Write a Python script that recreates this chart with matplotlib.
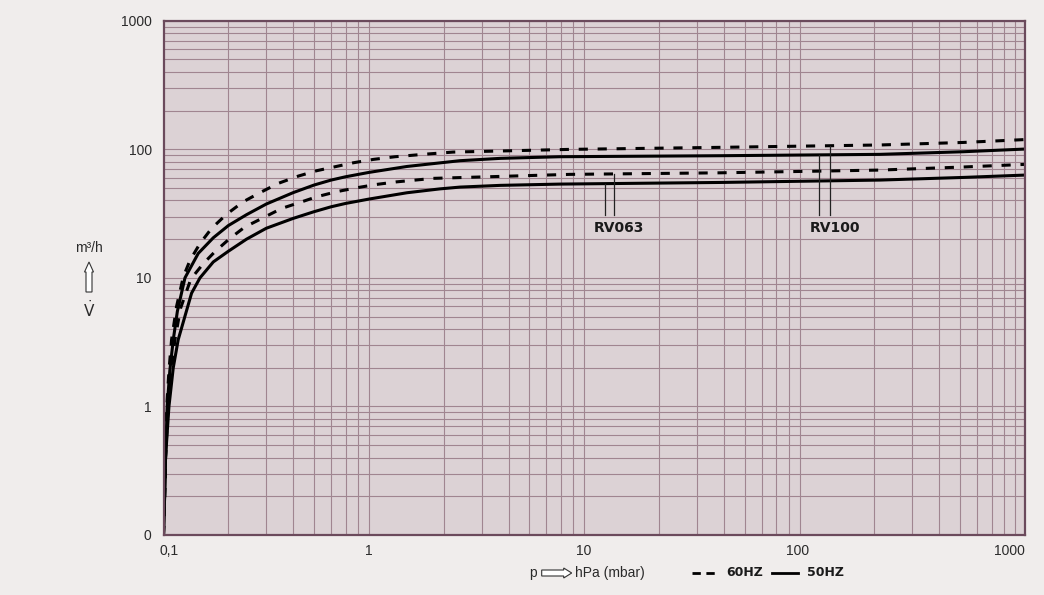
import numpy as np
import matplotlib
matplotlib.use('Agg')
import matplotlib.pyplot as plt
from matplotlib.patches import FancyArrow
from matplotlib.lines import Line2D
import matplotlib.transforms as mtrans
from matplotlib.ticker import LogLocator, NullFormatter, FixedLocator

# ---------------- data ----------------
rv100_60_p = [0.1, 0.1012, 0.1022, 0.1035, 0.106, 0.109, 0.115, 0.1236, 0.1328, 0.1477, 0.1674,
              0.1965, 0.2347, 0.28, 0.341, 0.423, 0.514, 0.625, 0.760, 0.942, 1.188, 1.67, 2.21,
              7.7, 38.3, 212, 517, 1000]
rv100_60_s = [0.1, 0.2, 0.4, 1.0, 1.9, 3.3, 6.0, 10.2, 13.7, 18.5, 24.3,
              31.3, 39.1, 45.9, 54.3, 61.9, 68.1, 73.1, 78.5, 83.4, 87.5, 91.8, 95.1,
              99.8, 103.5, 108, 113, 119]

rv100_50_p = [0.1, 0.1012, 0.1022, 0.104, 0.107, 0.111, 0.116, 0.1258, 0.145, 0.1703, 0.2,
              0.243, 0.3, 0.4, 0.5, 0.6, 0.7, 0.9, 1.35, 2.38, 3.67, 6.9, 38.3, 212, 517, 1000]
rv100_50_s = [0.1, 0.2, 0.4, 1.0, 1.9, 3.3, 5.5, 10.0, 15.5, 20.5, 25.5,
              31.0, 37.5, 46.0, 52.7, 57.6, 61.1, 66.1, 73.5, 81.5, 85.0, 87.5, 89.1, 91.3,
              95.7, 100.4]

rv063_60_p = [0.1, 0.1012, 0.1022, 0.105, 0.109, 0.113, 0.120, 0.134, 0.153, 0.1734, 0.2036,
              0.239, 0.290, 0.354, 0.430, 0.514, 0.637, 0.789, 0.977, 1.21, 1.79, 7.7, 38.3,
              212, 517, 1000]
rv063_60_s = [0.1, 0.2, 0.4, 1.0, 2.0, 3.3, 5.8, 9.8, 12.9, 16.0, 20.3,
              24.9, 29.3, 34.7, 38.6, 42.7, 46.8, 50.2, 53.3, 55.8, 59.4, 63.8, 65.6,
              68.9, 72.8, 76.3]

rv063_50_p = [0.1, 0.1012, 0.1022, 0.106, 0.111, 0.117, 0.135, 0.1477, 0.1703, 0.2, 0.243,
              0.3, 0.4, 0.5, 0.6, 0.7, 0.9, 1.35, 1.92, 2.38, 3.67, 6.9, 38.3, 212, 517, 1000]
rv063_50_s = [0.1, 0.2, 0.4, 1.0, 2.0, 3.3, 7.6, 10.0, 13.3, 16.1, 20.0,
              24.3, 29.0, 32.7, 35.7, 37.9, 41.0, 45.9, 49.2, 50.8, 52.4, 53.6, 55.2, 57.6,
              60.4, 63.0]

label_names = ['RV063', 'RV100']
label_p = [13.0, 131]          # label centre pressure
label_s = 24.5                 # label centre speed
leader_p_50 = [11.2, 111]      # leader line on 50 Hz curve
leader_p_60 = [12.35, 125]     # leader line on 60 Hz curve
leader_end_s = 30.8

x_tick_values = [0.1, 1, 10, 100, 1000]
x_tick_labels = ['0,1', '1', '10', '100', '1000']
y_tick_values = [0.1, 1, 10, 100, 1000]
y_tick_labels = ['0', '1', '10', '100', '1000']

# ---------------- styling ----------------
W, H = 1044, 595
FIG_BG = '#f0edec'
AX_BG = '#dcd2d5'
GRID = '#a08590'
SPINE = '#6b4a5c'
TXT = '#2a2a2a'
FONT = 'Liberation Sans'
plt.rcParams['font.family'] = [FONT, 'DejaVu Sans']

fig = plt.figure(figsize=(W / 100, H / 100), dpi=100, facecolor=FIG_BG)
L, R, T, B = 163.5, 1025, 20.7, 535
ax = fig.add_axes([L / W, (H - B) / H, (R - L) / W, (B - T) / H])
ax.set_facecolor(AX_BG)
ax.set_xscale('log')
ax.set_yscale('log')
ax.set_xlim(0.1, 1000)
ax.set_ylim(0.1, 1000)

ax.xaxis.set_major_locator(FixedLocator(x_tick_values))
ax.xaxis.set_minor_locator(LogLocator(base=10, subs=np.arange(2, 10)))
ax.xaxis.set_major_formatter(NullFormatter())
ax.xaxis.set_minor_formatter(NullFormatter())
ax.yaxis.set_minor_locator(LogLocator(base=10, subs=np.arange(2, 10)))
ax.yaxis.set_minor_formatter(NullFormatter())
ax.set_yticks(y_tick_values, labels=y_tick_labels)
ax.tick_params(which='both', length=0)
ax.tick_params(axis='y', labelsize=10, labelcolor=TXT, pad=8.5)

ax.xaxis.grid(True, which='minor', color=GRID, lw=0.8)
ax.xaxis.grid(False, which='major')
ax.yaxis.grid(True, which='both', color=GRID, lw=0.8)
ax.set_axisbelow(True)
for s in ax.spines.values():
    s.set_color(SPINE)
    s.set_linewidth(1.6)

# x tick labels with the original's offsets
blend = mtrans.blended_transform_factory(ax.transData, ax.transAxes)
x_offsets = [(-3.5, 'left'), (-10, 'center'), (-11, 'center'), (-12, 'center'), (0, 'right')]
for v, lab, (dx, ha) in zip(x_tick_values, x_tick_labels, x_offsets):
    tr = blend + mtrans.ScaledTranslation(dx / 100, -9 / 100, fig.dpi_scale_trans)
    ax.text(v, 0, lab, transform=tr, ha=ha, va='top', fontsize=10, color=TXT, clip_on=False)

# curves
lw = 2.2
dash = (0, (3.0, 3.2))
ax.plot(rv100_60_p, rv100_60_s, color='black', lw=lw, linestyle=dash, solid_capstyle='butt')
ax.plot(rv100_50_p, rv100_50_s, color='black', lw=lw, solid_joinstyle='round')
ax.plot(rv063_60_p, rv063_60_s, color='black', lw=lw, linestyle=dash, solid_capstyle='butt')
ax.plot(rv063_50_p, rv063_50_s, color='black', lw=lw, solid_joinstyle='round')

# leader lines and labels
def on_curve(p, ps, ss):
    return 10 ** np.interp(np.log10(p), np.log10(ps), np.log10(ss))

curves50 = [(rv063_50_p, rv063_50_s), (rv100_50_p, rv100_50_s)]
curves60 = [(rv063_60_p, rv063_60_s), (rv100_60_p, rv100_60_s)]
for i, name in enumerate(label_names):
    p50 = leader_p_50[i]
    p60 = leader_p_60[i]
    ax.plot([p50, p50], [on_curve(p50, *curves50[i]), leader_end_s], color='#222222', lw=0.9)
    ax.plot([p60, p60], [on_curve(p60, *curves60[i]), leader_end_s], color='#222222', lw=0.9)
    ax.text(label_p[i], label_s, name, ha='center', va='center', fontsize=10,
            fontweight='bold', family='DejaVu Sans', color='#1a1a1a')

# ---------------- axis titles & legend (figure pixel coords) ----------------
def fx(x):
    return x / W

def fy(y):
    return (H - y) / H

fig.text(fx(532.7), fy(573), 'p', ha='center', va='center', fontsize=10, color=TXT)
fig.text(fx(575), fy(573), 'hPa (mbar)', ha='left', va='center', fontsize=10, color=TXT)
fig.add_artist(FancyArrow(541.7 / 100, (H - 573) / 100, 30 / 100, 0, width=6 / 100,
                          head_width=10 / 100, head_length=8 / 100, length_includes_head=True,
                          transform=fig.dpi_scale_trans, facecolor='white', edgecolor='#333333',
                          lw=0.8))

fig.text(fx(89), fy(248), 'm³/h', ha='center', va='center', fontsize=10, color=TXT)
fig.add_artist(FancyArrow(89 / 100, (H - 292) / 100, 0, 30 / 100, width=6 / 100,
                          head_width=9 / 100, head_length=10 / 100, length_includes_head=True,
                          transform=fig.dpi_scale_trans, facecolor='white', edgecolor='#333333',
                          lw=0.8))
fig.text(fx(89), fy(310), r'$\dot{\mathrm{V}}$', ha='center', va='center', fontsize=11, color=TXT)

fig.add_artist(Line2D([fx(691.7), fx(718)], [fy(573), fy(573)], color='black', lw=2.0,
                      linestyle=(0, (3.0, 2.0)), transform=fig.transFigure))
fig.text(fx(726.7), fy(572.5), '60HZ', ha='left', va='center', fontsize=9, fontweight='bold',
         family='DejaVu Sans', color='#1a1a1a')
fig.add_artist(Line2D([fx(771.7), fx(798)], [fy(573), fy(573)], color='black', lw=2.0,
                      transform=fig.transFigure))
fig.text(fx(806.7), fy(572.5), '50HZ', ha='left', va='center', fontsize=9, fontweight='bold',
         family='DejaVu Sans', color='#1a1a1a')

fig.savefig('out.png', dpi=100, facecolor=FIG_BG)
